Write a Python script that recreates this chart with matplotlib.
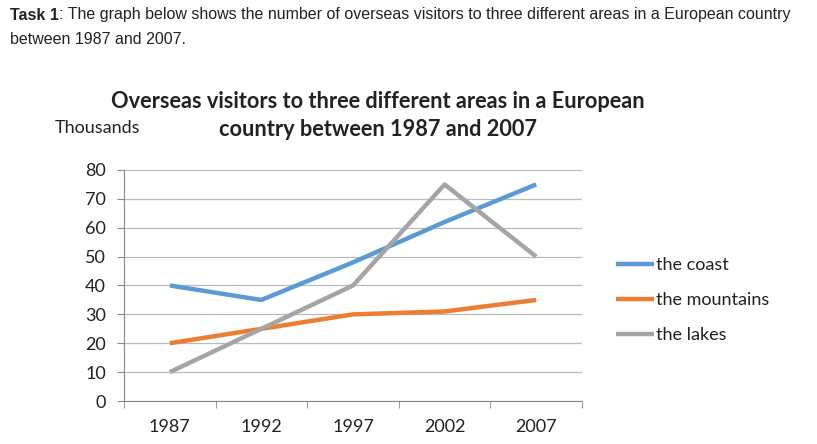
import matplotlib.pyplot as plt

years = ['1987', '1992', '1997', '2002', '2007']
coast = [40, 35, 48, 62, 75]
mountains = [20, 25, 30, 31, 35]
lakes = [10, 25, 40, 75, 50]
series_names = ['the coast', 'the mountains', 'the lakes']
colors = ['#5B9BD5', '#ED7D31', '#A5A5A5']

fig = plt.figure(figsize=(8.17, 4.44), dpi=100)
fig.patch.set_facecolor('white')

# task text at the top
fig.text(10 / 817, 1 - 15 / 444, 'Task 1', family='Liberation Sans', weight='bold',
         fontsize=11.5, va='center', color='#222222')
fig.text(59 / 817, 1 - 15 / 444,
         ': The graph below shows the number of overseas visitors to three different areas in a European country',
         family='Liberation Sans', fontsize=11.5, va='center', color='#222222')
fig.text(10 / 817, 1 - 40 / 444, 'between 1987 and 2007.', family='Liberation Sans',
         fontsize=11.5, va='center', color='#222222')

ax = fig.add_axes([124 / 817, 43 / 444, 458 / 817, 231 / 444])
x = list(range(len(years)))
for vals, name, c in zip([coast, mountains, lakes], series_names, colors):
    ax.plot(x, vals, color=c, lw=3.2, label=name, solid_capstyle='butt')

ax.set_xlim(-0.5, 4.5)
ax.set_ylim(0, 80)
ax.set_yticks(range(0, 81, 10))
ax.set_xticks(x)
ax.set_xticklabels(years)
ax.set_xticks([i - 0.5 for i in range(6)], minor=True)
ax.tick_params(axis='x', which='major', length=0, pad=13)
ax.tick_params(axis='x', which='minor', length=5, color='#888888', direction='out')
ax.tick_params(axis='y', length=5, color='#888888', pad=8)
for lab in ax.get_xticklabels() + ax.get_yticklabels():
    lab.set_family('Lato')
    lab.set_fontsize(13)
    lab.set_color('#222222')
ax.grid(axis='y', color='#BBBBBB', lw=0.9)
ax.set_axisbelow(True)
for s in ['top', 'right']:
    ax.spines[s].set_visible(False)
ax.spines['left'].set_color('#888888')
ax.spines['bottom'].set_color('#888888')

fig.text(378 / 817, 1 - 102 / 444, 'Overseas visitors to three different areas in a European',
         family='Lato', weight='bold', fontsize=15.7, ha='center', va='center', color='#222222')
fig.text(378 / 817, 1 - 130 / 444, 'country between 1987 and 2007',
         family='Lato', weight='bold', fontsize=15.7, ha='center', va='center', color='#222222')
fig.text(55 / 817, 1 - 128 / 444, 'Thousands', family='Lato', fontsize=13,
         va='center', color='#222222')

leg = fig.legend(loc='upper left', bbox_to_anchor=(600 / 817, 1 - 241 / 444), frameon=False,
                 prop={'family': 'Lato', 'size': 13}, handlelength=2.1, handletextpad=0.1,
                 labelspacing=1.05)
for t in leg.get_texts():
    t.set_color('#222222')

fig.savefig('out.png', dpi=100)
